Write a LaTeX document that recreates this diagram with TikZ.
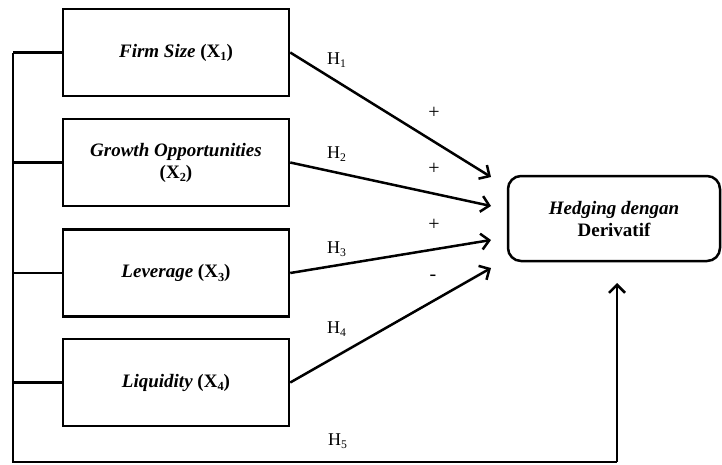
\documentclass[tikz,border=0pt]{standalone}
\usepackage{fontspec}
\setmainfont{Liberation Serif}
\usetikzlibrary{arrows.meta}
\newcommand{\lsub}[1]{\raisebox{-0.45ex}{\scalebox{0.65}{#1}}}
\tikzset{
  varbox/.style={draw, line width=2.5pt, minimum width=226pt, minimum height=87pt, inner sep=2pt, align=center, font=\fontsize{19}{22}\selectfont\bfseries},
  depbox/.style={draw, line width=2.5pt, rounded corners=13pt, minimum width=212pt, minimum height=85pt, inner sep=2pt, align=center, font=\fontsize{19}{22}\selectfont\bfseries},
  conn/.style={line width=2.5pt},
  arr/.style={line width=2.5pt, -{Straight Barb[length=8pt, width=16pt, line width=2.5pt]}},
  hlab/.style={anchor=base west, inner sep=0pt, font=\fontsize{18}{20}\selectfont},
  sign/.style={inner sep=0pt, font=\fontsize{20}{22}\selectfont}
}
\begin{document}
\begin{tikzpicture}[x=1pt,y=-1pt]
\useasboundingbox (0,0) rectangle (722,464);
\node[varbox] (b1) at (176,52.5) {\textit{Firm Size} (X\lsub{1})};
\node[varbox] (b2) at (176,162.5) {\textit{Growth Opportunities}\\(X\lsub{2})};
\node[varbox] (b3) at (176,273) {\textit{Leverage} (X\lsub{3})};
\node[varbox] (b4) at (176,382.5) {\textit{Liquidity} (X\lsub{4})};
\node[depbox] (y) at (614,218.5) {\textit{Hedging dengan}\\Derivatif};
% arrow tips
\coordinate (t1) at (491,177);
\coordinate (t2) at (491,206);
\coordinate (t3) at (491,240);
\coordinate (t4) at (491,268);
\draw[arr] (b1.east) -- (t1);
\draw[arr] (b2.east) -- (t2);
\draw[arr] (b3.east) -- (t3);
\draw[arr] (b4.east) -- (t4);
% left bus
\coordinate (l1) at (13,52.5);
\coordinate (l2) at (13,162.5);
\coordinate (l3) at (13,273);
\coordinate (l4) at (13,382.5);
\coordinate (lb) at (13,462);
\coordinate (rb) at (617,462);
\coordinate (tip5) at (617,283);
\draw[conn] (b1.west) -- (l1);
\draw[conn] (b2.west) -- (l2);
\draw[conn] (b3.west) -- (l3);
\draw[conn] (b4.west) -- (l4);
\draw[conn, line join=miter] (l1) -- (lb) -- (rb);
\draw[arr] (rb) -- (tip5);
% labels
\node[hlab] (h1) at (327,64) {H\lsub{1}};
\node[hlab] (h2) at (327,158) {H\lsub{2}};
\node[hlab] (h3) at (327,253) {H\lsub{3}};
\node[hlab] (h4) at (327,333) {H\lsub{4}};
\node[hlab] (h5) at (328,445) {H\lsub{5}};
\node[sign] (s1) at (434,113) {+};
\node[sign] (s2) at (434,169) {+};
\node[sign] (s3) at (434,225) {+};
\node[sign] (s4) at (433,278) {-};
\end{tikzpicture}
\end{document}
